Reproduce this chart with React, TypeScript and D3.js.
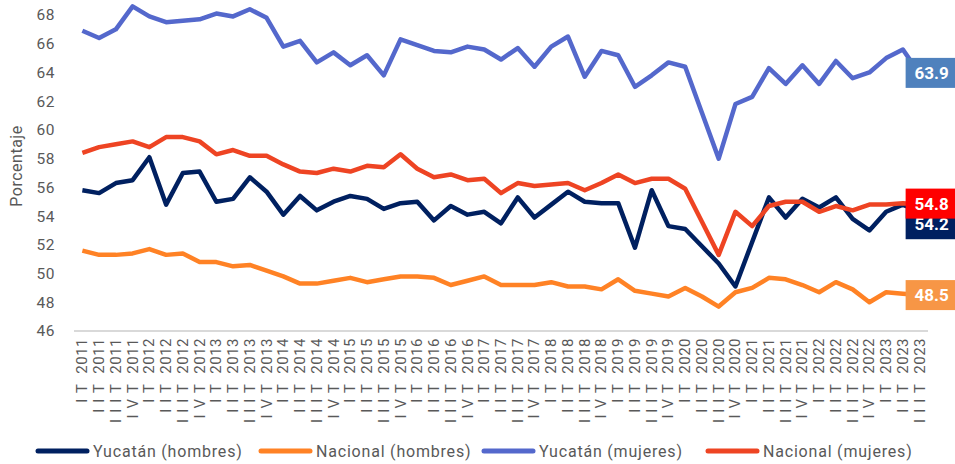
import React, { useEffect, useRef } from "react";
import * as d3 from "d3";

// quarters IT 2011 .. IIIT 2023
const quarterNames = ["IT", "IIT", "IIIT", "IVT"];
const categories: string[] = [];
for (let y = 2011; y <= 2023; y++) {
  quarterNames.forEach((q, i) => {
    if (y === 2023 && i > 2) return;
    categories.push(q + " " + y);
  });
}

const yucatanHombres = [
  55.8, 55.6, 56.3, 56.5, 58.1, 54.8, 57.0, 57.1, 55.0, 55.2, 56.7, 55.7, 54.1,
  55.4, 54.4, 55.0, 55.4, 55.2, 54.5, 54.9, 55.0, 53.7, 54.7, 54.1, 54.3, 53.5,
  55.3, 53.9, 54.8, 55.7, 55.0, 54.9, 54.9, 51.8, 55.8, 53.3, 53.1, 51.9, 50.7,
  49.1, 52.2, 55.3, 53.9, 55.2, 54.6, 55.3, 53.8, 53.0, 54.3, 54.8, 54.2
];
const nacionalHombres = [
  51.6, 51.3, 51.3, 51.4, 51.7, 51.3, 51.4, 50.8, 50.8, 50.5, 50.6, 50.2, 49.8,
  49.3, 49.3, 49.5, 49.7, 49.4, 49.6, 49.8, 49.8, 49.7, 49.2, 49.5, 49.8, 49.2,
  49.2, 49.2, 49.4, 49.1, 49.1, 48.9, 49.6, 48.8, 48.6, 48.4, 49.0, 48.4, 47.7,
  48.7, 49.0, 49.7, 49.6, 49.2, 48.7, 49.4, 48.9, 48.0, 48.7, 48.6, 48.5
];
const yucatanMujeres = [
  66.9, 66.4, 67.0, 68.6, 67.9, 67.5, 67.6, 67.7, 68.1, 67.9, 68.4, 67.8, 65.8,
  66.2, 64.7, 65.4, 64.5, 65.2, 63.8, 66.3, 65.9, 65.5, 65.4, 65.8, 65.6, 64.9,
  65.7, 64.4, 65.8, 66.5, 63.7, 65.5, 65.2, 63.0, 63.8, 64.7, 64.4, 61.2, 58.0,
  61.8, 62.3, 64.3, 63.2, 64.5, 63.2, 64.8, 63.6, 64.0, 65.0, 65.6, 63.9
];
const nacionalMujeres = [
  58.4, 58.8, 59.0, 59.2, 58.8, 59.5, 59.5, 59.2, 58.3, 58.6, 58.2, 58.2, 57.6,
  57.1, 57.0, 57.3, 57.1, 57.5, 57.4, 58.3, 57.3, 56.7, 56.9, 56.5, 56.6, 55.6,
  56.3, 56.1, 56.2, 56.3, 55.8, 56.3, 56.9, 56.3, 56.6, 56.6, 55.9, 53.6, 51.3,
  54.3, 53.3, 54.7, 55.0, 55.0, 54.3, 54.7, 54.4, 54.8, 54.8, 54.9, 54.8
];

const yTicks = [46, 48, 50, 52, 54, 56, 58, 60, 62, 64, 66, 68];

const seriesNames = [
  "Yucatán (hombres)",
  "Nacional (hombres)",
  "Yucatán (mujeres)",
  "Nacional (mujeres)"
];

export default function App() {
  const ref = useRef<SVGSVGElement>(null);

  useEffect(() => {
    const svg = d3.select(ref.current);
    svg.selectAll("*").remove();

    const font = "Roboto, 'DejaVu Sans', sans-serif";
    const grey = "#595959";

    const series = [
      { name: seriesNames[0], values: yucatanHombres, color: "#002060", box: "#002060", dy: 11 },
      { name: seriesNames[1], values: nacionalHombres, color: "#FF8225", box: "#F79646", dy: 0 },
      { name: seriesNames[2], values: yucatanMujeres, color: "#5468CC", box: "#4F81BD", dy: -1 },
      { name: seriesNames[3], values: nacionalMujeres, color: "#EE4423", box: "#FF0000", dy: -1 }
    ];

    var x = d3.scaleBand().domain(categories).range([74, 928]).padding(0);
    var y = d3.scaleLinear().domain([46, 68]).range([331, 15]);
    const cx = (c: string) => (x(c) as number) + x.bandwidth() / 2;

    // y tick labels
    svg
      .selectAll(".ytick")
      .data(yTicks)
      .enter()
      .append("text")
      .attr("x", 55)
      .attr("y", d => y(d))
      .attr("dy", "0.35em")
      .attr("text-anchor", "end")
      .style("font-family", font)
      .style("font-size", "15.5px")
      .style("letter-spacing", "0.5px")
      .style("fill", grey)
      .text(d => d);

    svg
      .append("text")
      .attr("transform", "translate(22,166) rotate(-90)")
      .attr("text-anchor", "middle")
      .style("font-family", font)
      .style("font-size", "16px")
      .style("letter-spacing", "0.5px")
      .style("fill", grey)
      .text("Porcentaje");

    // x axis line
    svg
      .append("line")
      .attr("x1", 74)
      .attr("x2", 928)
      .attr("y1", y(46))
      .attr("y2", y(46))
      .attr("stroke", "#D9D9D9")
      .attr("stroke-width", 2);

    // category labels, rotated; roman numerals set wide like the original
    const xt = svg
      .selectAll(".xtick")
      .data(categories)
      .enter()
      .append("text")
      .attr("transform", d => "translate(" + (cx(d) + 5) + ",338) rotate(-90)")
      .attr("text-anchor", "end")
      .style("font-family", font)
      .style("font-size", "15px")
      .style("fill", grey);
    xt.append("tspan")
      .style("letter-spacing", "6px")
      .text(d => d.split(" ")[0]);
    xt.append("tspan")
      .style("letter-spacing", "0.5px")
      .text(d => " " + d.split(" ")[1]);

    var line = d3
      .line<number>()
      .x((d, i) => cx(categories[i]))
      .y(d => y(d));

    series.forEach(s => {
      svg
        .append("path")
        .datum(s.values)
        .attr("fill", "none")
        .attr("stroke", s.color)
        .attr("stroke-width", 4.5)
        .attr("stroke-linejoin", "round")
        .attr("d", line);
    });

    // end labels
    const lastCat = categories[categories.length - 1];
    const order = [2, 0, 3, 1];
    order.forEach(k => {
      const s = series[k];
      const v = s.values[s.values.length - 1];
      const yy = y(v) + s.dy;
      const g = svg.append("g");
      g.append("rect")
        .attr("x", cx(lastCat) - 14)
        .attr("y", yy - 15)
        .attr("width", 52)
        .attr("height", 30)
        .attr("fill", s.box);
      g.append("text")
        .attr("x", cx(lastCat) + 12)
        .attr("y", yy)
        .attr("dy", "0.36em")
        .attr("text-anchor", "middle")
        .style("font-family", font)
        .style("font-size", "17px")
        .style("font-weight", "bold")
        .style("fill", "white")
        .text(v.toFixed(1));
    });

    // legend
    const legendX = [35, 258, 481, 705];
    series.forEach((s, i) => {
      const g = svg.append("g").attr("transform", "translate(" + legendX[i] + ",451)");
      g.append("line")
        .attr("x1", 3)
        .attr("x2", 52)
        .attr("stroke", s.color)
        .attr("stroke-width", 5)
        .attr("stroke-linecap", "round");
      g.append("text")
        .attr("x", 58)
        .attr("dy", "0.35em")
        .style("font-family", font)
        .style("font-size", "16px")
        .style("letter-spacing", "0.8px")
        .style("fill", grey)
        .text(s.name);
    });
  }, []);

  return (
    <svg
      ref={ref}
      width={955}
      height={464}
      style={{ position: "absolute", left: 0, top: 0, background: "white" }}
    />
  );
}
